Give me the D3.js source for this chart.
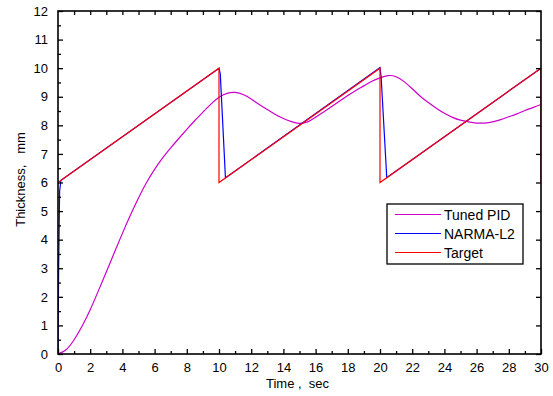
<!DOCTYPE html>
<html>
<head>
<meta charset="utf-8">
<script src="https://cdn.jsdelivr.net/npm/d3@7"></script>
<style>
  html, body { margin: 0; padding: 0; background: #fff; }
  svg { display: block; font-family: "Liberation Sans", Arial, sans-serif; }
</style>
</head>
<body>
<svg id="chart" width="553" height="396"></svg>
<script>
// ---- Data ----
const pidTime = [0,0.5,1,1.5,2,2.5,3,3.5,4,4.5,5,5.5,6,6.5,7,7.5,8,8.5,9,9.5,10,10.5,11,11.5,12,12.5,13,13.5,14,14.5,15,15.5,16,16.5,17,17.5,18,18.5,19,19.5,20,20.5,21,21.5,22,22.5,23,23.5,24,24.5,25,25.5,26,26.5,27,27.5,28,28.5,29,29.5,30];
const pidValues = [0,0.15,0.5,0.98,1.55,2.2,2.87,3.55,4.22,4.86,5.46,6.0,6.46,6.86,7.21,7.54,7.86,8.17,8.46,8.74,8.98,9.12,9.15,9.08,8.92,8.73,8.55,8.38,8.24,8.13,8.07,8.12,8.28,8.47,8.66,8.85,9.04,9.22,9.38,9.54,9.66,9.74,9.7,9.53,9.28,9.02,8.8,8.6,8.42,8.28,8.18,8.12,8.08,8.08,8.12,8.2,8.3,8.4,8.52,8.62,8.73];
const narmaTime = [0,0.04,0.1,0.18,10,10.08,10.4,10.5,20,20.07,20.42,20.5,30];
const narmaValues = [0,3.0,5.7,6.08,10.0,9.8,6.16,6.2,10.02,9.7,6.17,6.2,10.0];
const targetTime = [0,10,10,20,20,30,30];
const targetValues = [6,10,6,10,6,10,6];
const xTicks = [0,2,4,6,8,10,12,14,16,18,20,22,24,26,28,30];
const yTicks = [0,1,2,3,4,5,6,7,8,9,10,11,12];
const seriesNames = ["Tuned PID","NARMA-L2","Target"];
const seriesColors = ["#cc00cc","#0000ff","#ff0000"];

// ---- Layout ----
const svg = d3.select("#chart");
const L = 58, R = 541, T = 11, B = 354;
const x = d3.scaleLinear().domain([0,30]).range([L,R]);
const y = d3.scaleLinear().domain([0,12]).range([B,T]);

// ---- Lines ----
svg.append("clipPath").attr("id","clip").append("rect")
  .attr("x",L).attr("y",T-1).attr("width",R-L).attr("height",B-T+2);
const g = svg.append("g").attr("clip-path","url(#clip)");

function draw(ts, vs, color, curve) {
  const pts = ts.map((t,i)=>[t,vs[i]]);
  g.append("path").datum(pts)
    .attr("fill","none").attr("stroke",color).attr("stroke-width",1.2)
    .attr("d", d3.line().x(d=>x(d[0])).y(d=>y(d[1])).curve(curve));
}
draw(pidTime, pidValues, seriesColors[0], d3.curveNatural);
draw(narmaTime, narmaValues, seriesColors[1], d3.curveLinear);
draw(targetTime, targetValues, seriesColors[2], d3.curveLinear);

// ---- Axes ----
const minorX = d3.range(1,30,2);
const minorY = d3.range(0.5,12,1);

// bottom
svg.append("g").attr("transform",`translate(0,${B})`)
  .call(d3.axisBottom(x).tickValues(xTicks).tickSizeInner(-5).tickSizeOuter(0).tickPadding(9).tickFormat(d3.format("d")))
  .call(s=>{s.select(".domain").remove(); s.selectAll("text").attr("font-size",13).attr("font-family","Liberation Sans, Arial, sans-serif");});
svg.append("g").attr("transform",`translate(0,${B})`)
  .call(d3.axisBottom(x).tickValues(minorX).tickSizeInner(-3).tickSizeOuter(0).tickFormat(""))
  .call(s=>s.select(".domain").remove());
// top
svg.append("g").attr("transform",`translate(0,${T})`)
  .call(d3.axisTop(x).tickValues(d3.range(1,30,1)).tickSizeInner(-4).tickSizeOuter(0).tickFormat(""))
  .call(s=>s.select(".domain").remove());
// left
svg.append("g").attr("transform",`translate(${L},0)`)
  .call(d3.axisLeft(y).tickValues(yTicks).tickSizeInner(-5).tickSizeOuter(0).tickPadding(10).tickFormat(d3.format("d")))
  .call(s=>{s.select(".domain").remove(); s.selectAll("text").attr("font-size",13).attr("font-family","Liberation Sans, Arial, sans-serif");});
svg.append("g").attr("transform",`translate(${L},0)`)
  .call(d3.axisLeft(y).tickValues(minorY).tickSizeInner(-3).tickSizeOuter(0).tickFormat(""))
  .call(s=>s.select(".domain").remove());
// right
svg.append("g").attr("transform",`translate(${R},0)`)
  .call(d3.axisRight(y).tickValues(yTicks).tickSizeInner(-5).tickSizeOuter(0).tickFormat(""))
  .call(s=>s.select(".domain").remove());

svg.selectAll(".tick line").attr("stroke","#000").attr("stroke-width",1.3);

// frame
svg.append("rect").attr("x",L).attr("y",T).attr("width",R-L).attr("height",B-T)
  .attr("fill","none").attr("stroke","#000").attr("stroke-width",1.6);

// axis titles
svg.append("text").attr("x",(L+R)/2-2).attr("y",388).attr("text-anchor","middle")
  .attr("font-size",13).attr("xml:space","preserve").text("Time ,  sec");
svg.append("text").attr("transform",`translate(25,${(T+B)/2-3}) rotate(-90)`)
  .attr("text-anchor","middle").attr("font-size",13).attr("xml:space","preserve").text("Thickness,   mm");

// legend
const lg = svg.append("g");
lg.append("rect").attr("x",387).attr("y",204).attr("width",136).attr("height",60)
  .attr("fill","#fff").attr("stroke","#000").attr("stroke-width",1.3);
seriesNames.forEach((n,i)=>{
  const yy = 214.5 + i*19;
  lg.append("line").attr("x1",395).attr("x2",441).attr("y1",yy).attr("y2",yy)
    .attr("stroke",seriesColors[i]).attr("stroke-width",1.2);
  lg.append("text").attr("x",444).attr("y",yy+5).attr("font-size",14).text(n);
});
</script>
</body>
</html>
